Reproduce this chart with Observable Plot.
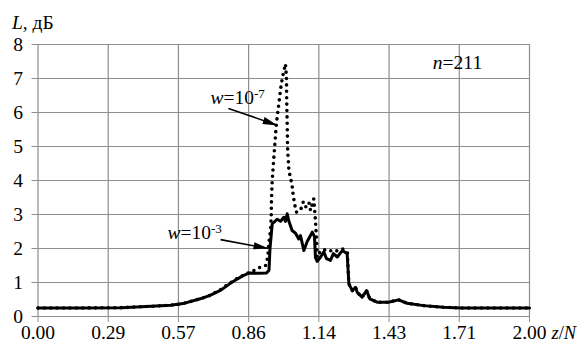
<!DOCTYPE html>
<html><head><meta charset="utf-8">
<script src="https://cdn.jsdelivr.net/npm/d3@7"></script>
<script src="https://cdn.jsdelivr.net/npm/@observablehq/plot@0.6"></script>
<style>
body{margin:0;background:#fff}
svg, svg text, svg tspan{font-family:"Liberation Serif", serif !important}
</style>
</head><body><div id="chart"></div><script>
// w = 10^-3 (solid)
const z3 = [0,0.17,0.34,0.46,0.54,0.59,0.66,0.70,0.74,0.78,0.81,0.84,0.86,0.90,0.93,0.94,0.944,0.953,0.973,0.987,1.00,1.007,1.014,1.021,1.034,1.048,1.061,1.068,1.082,1.095,1.116,1.125,1.129,1.136,1.150,1.163,1.174,1.19,1.202,1.218,1.238,1.251,1.258,1.265,1.279,1.292,1.299,1.319,1.337,1.350,1.380,1.426,1.467,1.502,1.569,1.65,1.72,2.00];
const L3 = [0.25,0.25,0.26,0.30,0.33,0.38,0.52,0.62,0.76,0.96,1.10,1.22,1.28,1.27,1.28,1.36,2.0,2.72,2.86,2.80,2.92,2.80,3.02,2.80,2.53,2.45,2.28,2.38,1.94,2.20,2.48,2.35,1.74,1.62,1.75,1.90,1.70,1.65,1.85,1.75,1.94,1.88,1.85,0.96,0.76,0.86,0.71,0.57,0.76,0.52,0.42,0.42,0.49,0.39,0.32,0.27,0.25,0.25];
// w = 10^-7 (dotted)
const z7 = [0,0.17,0.34,0.46,0.54,0.59,0.66,0.70,0.74,0.78,0.81,0.845,0.878,0.905,0.926,0.935,0.939,0.946,0.949,0.950,0.953,0.960,0.970,0.980,0.990,0.998,1.007,1.011,1.012,1.014,1.016,1.021,1.027,1.034,1.038,1.044,1.052,1.068,1.079,1.088,1.102,1.109,1.122,1.125,1.129,1.133,1.136,1.15,1.177,1.204,1.238,1.251,1.259,1.265,1.279,1.292,1.299,1.319,1.337,1.350,1.380,1.426,1.467,1.502,1.569,1.65,1.72,2.00];
const L7 = [0.25,0.25,0.26,0.30,0.33,0.38,0.52,0.62,0.78,0.98,1.12,1.25,1.35,1.45,1.50,1.74,2.14,2.53,2.92,3.40,4.0,4.7,5.67,6.26,6.84,7.14,7.43,7.04,6.35,5.67,4.88,4.29,4.1,3.85,3.6,3.31,3.07,3.12,3.36,3.21,3.36,3.12,3.46,3.20,2.82,2.33,1.74,1.94,1.97,1.90,1.99,1.95,1.88,0.96,0.76,0.86,0.71,0.57,0.76,0.52,0.42,0.42,0.49,0.39,0.32,0.27,0.25,0.25];

const xTickLabels = ["0.00","0.29","0.57","0.86","1.14","1.43","1.71","2.00"];
const xTicks = xTickLabels.map((_, i) => i * 2 / 7);
const yTicks = [0,1,2,3,4,5,6,7,8];

// annotations
const wExp = ["-7", "-3"];
const wX = [0.702, 0.527];
const wY = [6.44, 2.47];
const arrowX1 = [0.775, 0.743], arrowY1 = [6.12, 2.26];
const arrowX2 = [0.975, 0.938], arrowY2 = [5.62, 2.00];
const nLabel = ["n", "=211"];
const nX = [1.707], nY = [7.47];

const s3 = z3.map((z, i) => ({z, L: L3[i]}));
const s7 = z7.map((z, i) => ({z, L: L7[i]}));
const arrows = arrowX1.map((x1, i) => ({x1, y1: arrowY1[i], x2: arrowX2[i], y2: arrowY2[i]}));
const wLabels = wExp.map((e, i) => ({x: wX[i], y: wY[i], t: "w=10" + e}));

const grey = "#8e8e8e";
const fs = 19.5;
const FONT = "Liberation Serif, serif";

const plot = Plot.plot({
  width: 582, height: 347,
  marginLeft: 37.5, marginRight: 53, marginTop: 44, marginBottom: 31,
  style: {fontFamily: FONT, fontSize: fs + "px", color: "#000", background: "#fff", overflow: "visible"},
  x: {domain: [0, 2], label: null},
  y: {domain: [0, 8], label: null},
  marks: [
    Plot.gridX(xTicks, {stroke: grey, strokeOpacity: 1, strokeWidth: 1.2}),
    Plot.gridY(yTicks, {stroke: grey, strokeOpacity: 1, strokeWidth: 1.2}),
    Plot.axisX(xTicks, {tickFormat: (d, i) => xTickLabels[i], tickSize: 6, tickPadding: 3, stroke: grey, fill: "#000", fontSize: fs, label: null}),
    Plot.axisY(yTicks, {tickSize: 6, tickPadding: 9, stroke: grey, fill: "#000", fontSize: fs, label: null}),
    Plot.line(s7, {x: "z", y: "L", stroke: "#000", strokeWidth: 3.6, strokeDasharray: "0 6.4", strokeLinecap: "round"}),
    Plot.line(s3, {x: "z", y: "L", stroke: "#000", strokeWidth: 3}),
    Plot.link(arrows, {x1: "x1", y1: "y1", x2: "x2", y2: "y2", stroke: "#000", strokeWidth: 1.6}),
    Plot.text(wLabels, {x: "x", y: "y", text: "t", textAnchor: "start", lineAnchor: "middle", fontSize: fs}),
    Plot.text([nLabel.join("")], {x: nX, y: nY, textAnchor: "middle", lineAnchor: "middle", fontSize: fs}),
    Plot.text(["L, дБ"], {frameAnchor: "top-left", dx: -26, dy: -22, textAnchor: "start", lineAnchor: "middle", fontSize: fs}),
    Plot.text(["z/N"], {frameAnchor: "bottom-right", dx: 22, dy: 17, textAnchor: "start", lineAnchor: "middle", fontSize: 18.5})
  ]
});

const NS = "http://www.w3.org/2000/svg";
function rich(el, parts) {
  el.textContent = "";
  for (const p of parts) {
    const ts = document.createElementNS(NS, "tspan");
    ts.textContent = p.t;
    if (p.i) ts.setAttribute("font-style", "italic");
    if (p.sup) { ts.setAttribute("dy", "-0.42em"); ts.setAttribute("font-size", "13px"); }
    el.appendChild(ts);
  }
}
const svg = d3.select(plot);
svg.attr("font-family", FONT).style("font-family", FONT);
svg.selectAll("text").attr("font-family", FONT).style("font-family", FONT);

const textGroups = svg.selectAll('g[aria-label="text"]').nodes();
// order: w labels, n label, y label, x label
d3.select(textGroups[0]).selectAll("text").each(function(d, i) {
  rich(this, [{t: "w", i: true}, {t: "=10"}, {t: wExp[i], sup: true}]);
});
d3.select(textGroups[1]).selectAll("text").each(function() {
  rich(this, [{t: nLabel[0], i: true}, {t: nLabel[1]}]);
});
d3.select(textGroups[2]).selectAll("text").each(function() {
  rich(this, [{t: "L", i: true}, {t: ", дБ"}]);
});
d3.select(textGroups[3]).selectAll("text").each(function() {
  rich(this, [{t: "z", i: true}, {t: "/"}, {t: "N", i: true}]);
});
const defs = svg.append("defs");
defs.append("marker").attr("id", "ah").attr("viewBox", "0 -4 15 8")
  .attr("refX", 15).attr("refY", 0).attr("markerWidth", 15).attr("markerHeight", 8)
  .attr("markerUnits", "userSpaceOnUse").attr("orient", "auto")
  .append("path").attr("d", "M0,-3.6L15,0L0,3.6Z").attr("fill", "#000");
svg.selectAll('g[aria-label="link"] path, g[aria-label="link"] line').attr("marker-end", "url(#ah)");

document.getElementById("chart").appendChild(plot);
</script></body></html>
